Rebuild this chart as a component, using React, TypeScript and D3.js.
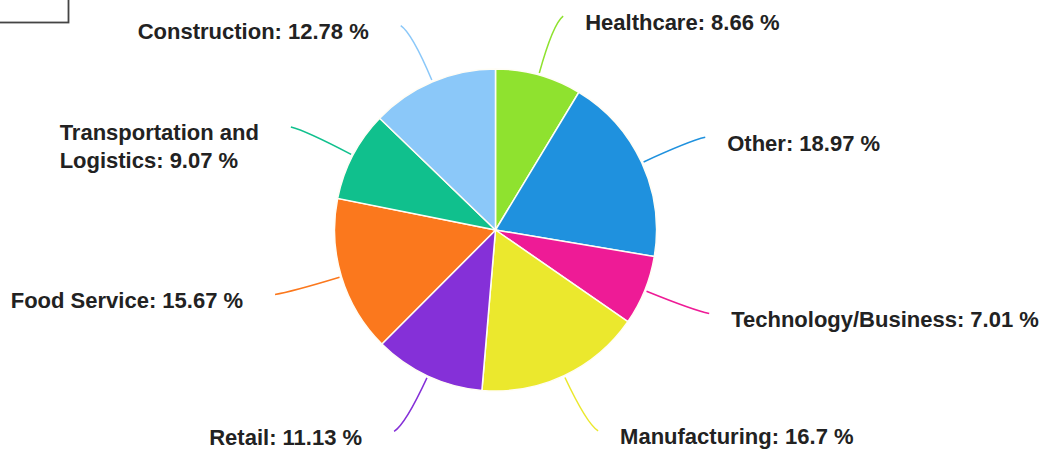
import React from "react";
import * as d3 from "d3";

const categories = [
  "Healthcare",
  "Other",
  "Technology/Business",
  "Manufacturing",
  "Retail",
  "Food Service",
  "Transportation and Logistics",
  "Construction",
];
const values = [8.66, 18.97, 7.01, 16.7, 11.13, 15.67, 9.07, 12.78];
const colors = [
  "#8fe22f",
  "#1f91de",
  "#ee1b96",
  "#ebe82d",
  "#8530d8",
  "#fb781d",
  "#10c08d",
  "#8bc8f9",
];

const W = 1046;
const H = 449;
const CX = 495.5;
const CY = 230;
const R = 161;
const FONT = "bold 22px 'Liberation Sans', Arial, sans-serif";
const FONT_SIZE = 22;
const LINE_H = 28;

function measure(text: string): number {
  const c = document.createElement("canvas");
  const ctx = c.getContext("2d")!;
  ctx.font = FONT;
  return ctx.measureText(text).width;
}

function wrap(text: string, maxW: number): string[] {
  const words = text.split(" ");
  const lines: string[] = [];
  let cur = "";
  for (const w of words) {
    const t = cur ? cur + " " + w : w;
    if (measure(t) <= maxW || !cur) cur = t;
    else {
      lines.push(cur);
      cur = w;
    }
  }
  if (cur) lines.push(cur);
  return lines;
}

export default function App() {
  const pie = d3
    .pie<number>()
    .sort(null)
    .value((d) => d)(values);
  const arc = d3.arc<d3.PieArcDatum<number>>().innerRadius(0).outerRadius(R);
  const polar = (r: number, a: number): [number, number] => [
    CX + r * Math.sin(a),
    CY - r * Math.cos(a),
  ];

  return (
    <svg
      width={W}
      height={H}
      style={{ position: "fixed", left: 0, top: 0, background: "#fff" }}
    >
      <rect x={-10} y={-10} width={78.5} height={32.5} fill="none" stroke="#444" strokeWidth={1.8} />
      <g transform={`translate(${CX},${CY})`}>
        {pie.map((p, i) => (
          <path key={i} d={arc(p) || ""} fill={colors[i]} stroke="#fffdf5" strokeWidth={1.5} />
        ))}
      </g>
      {pie.map((p, i) => {
        const mid = (p.startAngle + p.endAngle) / 2;
        const right = Math.sin(mid) >= 0;
        const s = polar(R + 2, mid);
        const c = polar(214, mid);
        const e0 = polar(222, mid);
        const e: [number, number] = [e0[0] + (right ? 8 : -8), e0[1]];
        const label = `${categories[i]}: ${values[i]} %`;
        const gap = right ? 22 : 32;
        const avail = right ? W - (e[0] + gap) - 4 : e[0] - gap - 8;
        const lines = wrap(label, avail);
        const maxW = Math.max(...lines.map(measure));
        const tx = right ? e[0] + gap : e[0] - gap - maxW;
        const ty = e[1] + 13.5;
        return (
          <g key={i}>
            <path
              d={`M${s[0]},${s[1]} Q${c[0]},${c[1]} ${e[0]},${e[1]}`}
              fill="none"
              stroke={colors[i]}
              strokeWidth={1.5}
            />
            <text
              x={tx}
              y={ty}
              fontFamily="'Liberation Sans', Arial, sans-serif"
              fontWeight="bold"
              fontSize={FONT_SIZE}
              fill="#222"
            >
              {lines.map((l, j) => (
                <tspan key={j} x={tx} y={ty + j * LINE_H}>
                  {l}
                </tspan>
              ))}
            </text>
          </g>
        );
      })}
    </svg>
  );
}
